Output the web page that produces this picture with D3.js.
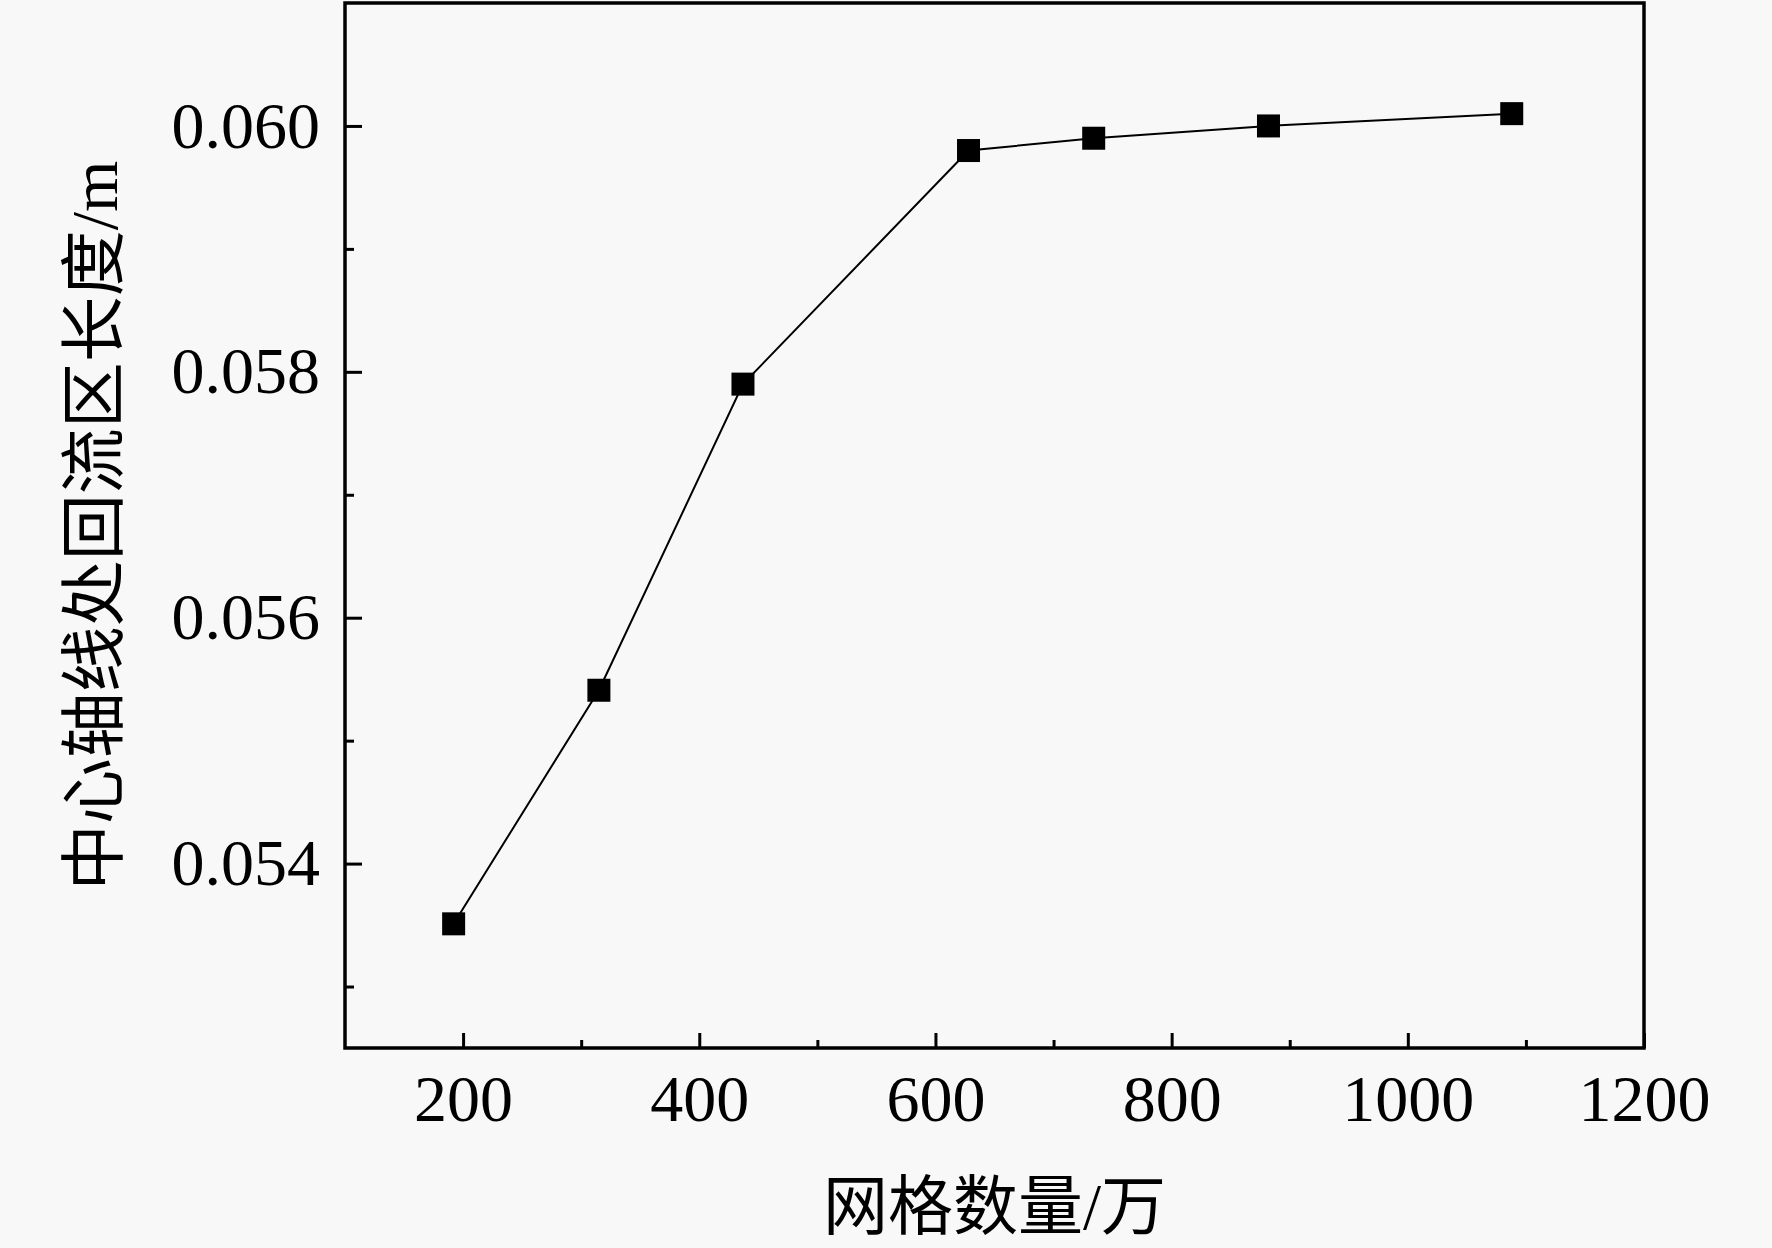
<!DOCTYPE html>
<html>
<head>
<meta charset="utf-8">
<script src="https://cdn.jsdelivr.net/npm/d3@7"></script>
<style>
  body { margin: 0; background: #f8f8f8; }
  .canvas svg { display: block; }
</style>
</head>
<body>
<div class="canvas"></div>
<script>
// grid count (x 10^4) vs recirculation length on centre axis
const meshCount = [192, 315, 437, 628, 734, 882, 1088];
const recircLength = [0.05351, 0.05541, 0.05790, 0.05980, 0.05990, 0.06000, 0.06010];

const xMajor = [200, 400, 600, 800, 1000, 1200];
const xMinor = [300, 500, 700, 900, 1100];
const yMajor = [0.054, 0.056, 0.058, 0.060];
const yMinor = [0.053, 0.055, 0.057, 0.059];

const xTitle = "网格数量/万";
const yTitle = "中心轴线处回流区长度/m";

const width = 1772;
const height = 1248;
const marginTop = 3;
const marginRight = 128;
const marginBottom = 200;
const marginLeft = 345;

const numFont = '"Liberation Serif", "Times New Roman", serif';
const cjkFont = '"Liberation Serif", "Noto Sans CJK SC", serif';

const x = d3.scaleLinear()
            .domain([100, 1200])
            .range([marginLeft, width - marginRight]);

const y = d3.scaleLinear()
            .domain([0.0525, 0.061])
            .range([height - marginBottom, marginTop]);

const svg = d3.select(".canvas").append("svg")
              .attr("width", width)
              .attr("height", height);

svg.append("rect")
   .attr("width", width)
   .attr("height", height)
   .attr("fill", "#f8f8f8");

function translate(a, b) {
  return "translate(" + a + "," + b + ")";
}

// minor ticks first, majors with labels on top
svg.append("g")
   .attr("transform", translate(0, height - marginBottom))
   .call(d3.axisBottom(x).tickValues(xMinor).tickSize(-8).tickFormat(""))
   .call(g => g.select(".domain").remove())
   .selectAll("line").attr("stroke-width", 3);

svg.append("g")
   .attr("transform", translate(0, height - marginBottom))
   .call(d3.axisBottom(x).tickValues(xMajor).tickSize(-15).tickPadding(26).tickFormat(d3.format("d")))
   .call(g => g.select(".domain").remove())
   .call(g => g.selectAll("line").attr("stroke-width", 3))
   .call(g => g.selectAll("text")
                .attr("font-family", numFont)
                .attr("font-size", 66)
                .attr("fill", "#000"));

svg.append("g")
   .attr("transform", translate(marginLeft, 0))
   .call(d3.axisLeft(y).tickValues(yMinor).tickSize(-9).tickFormat(""))
   .call(g => g.select(".domain").remove())
   .selectAll("line").attr("stroke-width", 3);

svg.append("g")
   .attr("transform", translate(marginLeft, 0))
   .call(d3.axisLeft(y).tickValues(yMajor).tickSize(-17).tickPadding(25).tickFormat(d3.format(".3f")))
   .call(g => g.select(".domain").remove())
   .call(g => g.selectAll("line").attr("stroke-width", 3))
   .call(g => g.selectAll("text")
                .attr("font-family", numFont)
                .attr("font-size", 66)
                .attr("fill", "#000"));

// frame
svg.append("rect")
   .attr("x", marginLeft)
   .attr("y", marginTop)
   .attr("width", width - marginRight - marginLeft)
   .attr("height", height - marginBottom - marginTop)
   .attr("fill", "none")
   .attr("stroke", "#000")
   .attr("stroke-width", 3.5);

const data = meshCount.map((d, i) => ({ n: d, len: recircLength[i] }));

const line = d3.line()
               .x(d => x(d.n))
               .y(d => y(d.len));

svg.append("path")
   .datum(data)
   .attr("d", line)
   .attr("fill", "none")
   .attr("stroke", "#000")
   .attr("stroke-width", 2);

const markerSize = 23;
svg.selectAll("rect.pt")
   .data(data)
   .join("rect")
     .attr("class", "pt")
     .attr("x", d => x(d.n) - markerSize / 2)
     .attr("y", d => y(d.len) - markerSize / 2)
     .attr("width", markerSize)
     .attr("height", markerSize)
     .attr("fill", "#000");

svg.append("text")
   .attr("x", (marginLeft + width - marginRight) / 2)
   .attr("y", 1229)
   .attr("text-anchor", "middle")
   .attr("font-family", cjkFont)
   .attr("font-size", 65)
   .attr("fill", "#000")
   .text(xTitle);

svg.append("text")
   .attr("transform", translate(117, (marginTop + height - marginBottom) / 2) + " rotate(-90)")
   .attr("text-anchor", "middle")
   .attr("font-family", cjkFont)
   .attr("font-size", 66)
   .attr("fill", "#000")
   .text(yTitle);
</script>
</body>
</html>
